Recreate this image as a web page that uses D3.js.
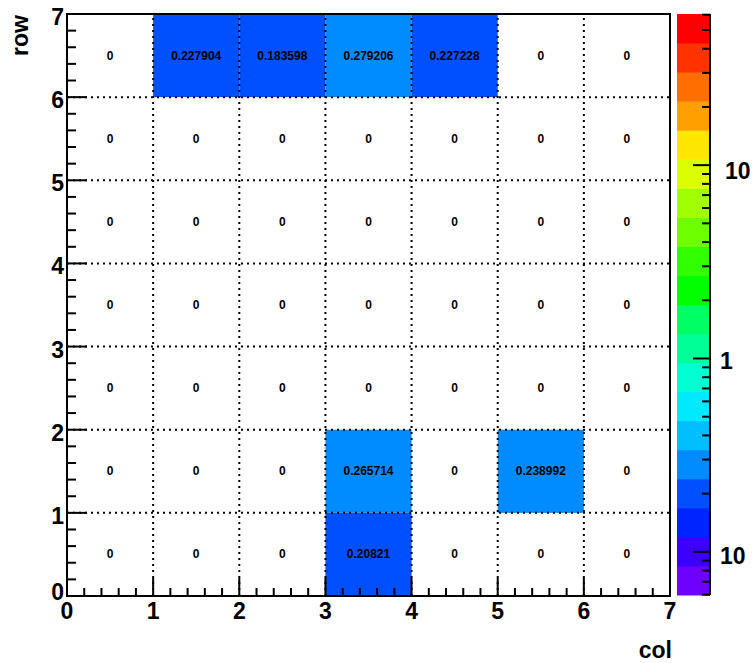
<!DOCTYPE html>
<html><head><meta charset="utf-8">
<script src="https://cdn.jsdelivr.net/npm/d3@7"></script>
<style>
html,body{margin:0;padding:0;background:#fff;}
svg{display:block;font-family:"Liberation Sans",Arial,Helvetica,sans-serif;}
</style></head>
<body>
<svg id="c" width="755" height="663"></svg>
<script>
// ---- data ----
const cols = [0, 1, 2, 3, 4, 5, 6];
const rows = [0, 1, 2, 3, 4, 5, 6];
const row0 = [0, 0, 0, 0.20821, 0, 0, 0];
const row1 = [0, 0, 0, 0.265714, 0, 0.238992, 0];
const row2 = [0, 0, 0, 0, 0, 0, 0];
const row3 = [0, 0, 0, 0, 0, 0, 0];
const row4 = [0, 0, 0, 0, 0, 0, 0];
const row5 = [0, 0, 0, 0, 0, 0, 0];
const row6 = [0, 0.227904, 0.183598, 0.279206, 0.227228, 0, 0];
const values = [row0, row1, row2, row3, row4, row5, row6];
const xTicks = [0, 1, 2, 3, 4, 5, 6, 7];
const yTicks = [0, 1, 2, 3, 4, 5, 6, 7];
const zRange = [0.0598, 60.5];
const zMajor = [0.1, 1, 10];
const zLabels = ["10", "1", "10"];
const xTitle = "col", yTitle = "row";
// palette, low to high (20 contour bands)
const palette = ["#6e00ff","#3c00ff","#0024ff","#0050ff","#008cff","#00beff","#00eaff","#00ffd2",
  "#00ff96","#00ff64","#00ff00","#32ff00","#6eff00","#a0ff00","#dcff00","#ffe600",
  "#ffa000","#ff6e00","#ff3200","#ff0000"];

const svg = d3.select("#c");
const L = 67, R = 670, T = 14, B = 596;
const x = d3.scaleLinear().domain([0, 7]).range([L, R]);
const y = d3.scaleLinear().domain([0, 7]).range([B, T]);
const zLog = d3.scaleLog().domain(zRange).range([0, palette.length]);
const colorOf = v => palette[Math.max(0, Math.min(palette.length - 1, Math.floor(zLog(v))))];

// cells
const cells = [];
rows.forEach((r, ri) => cols.forEach((c, ci) => cells.push({c, r, v: values[ri][ci]})));
svg.append("g").selectAll("rect").data(cells.filter(d => d.v > 0)).join("rect")
  .attr("x", d => x(d.c)).attr("y", d => y(d.r + 1))
  .attr("width", d => x(d.c + 1) - x(d.c)).attr("height", d => y(d.r) - y(d.r + 1))
  .attr("fill", d => colorOf(d.v));

// grid
const grid = svg.append("g").attr("stroke", "#000").attr("stroke-width", 2).attr("stroke-dasharray", "2,4");
grid.selectAll("line.gx").data(xTicks.slice(1, -1)).join("line")
  .attr("x1", d => x(d)).attr("x2", d => x(d)).attr("y1", B).attr("y2", T);
grid.selectAll("line.gy").data(yTicks.slice(1, -1)).join("line").attr("class","gy")
  .attr("y1", d => y(d)).attr("y2", d => y(d)).attr("x1", L).attr("x2", R);

// cell texts
svg.append("g").selectAll("text").data(cells).join("text")
  .attr("x", d => x(d.c + 0.5)).attr("y", d => y(d.r + 0.5) + 4)
  .attr("text-anchor", "middle").attr("font-size", 12).attr("font-weight", "bold")
  .text(d => String(d.v));

// frame
svg.append("rect").attr("x", L).attr("y", T).attr("width", R - L).attr("height", B - T)
  .attr("fill", "none").attr("stroke", "#000").attr("stroke-width", 2);

// ticks
const tk = svg.append("g").attr("stroke", "#000").attr("stroke-width", 2);
const minor = d3.range(0, 35).map(i => i / 5);
tk.selectAll("line.xm").data(minor).join("line").attr("class","xm")
  .attr("x1", d => x(d)).attr("x2", d => x(d)).attr("y1", B).attr("y2", d => B - (Number.isInteger(Math.round(d*1000)/1000) ? 18 : 8));
tk.selectAll("line.ym").data(minor).join("line").attr("class","ym")
  .attr("y1", d => y(d)).attr("y2", d => y(d)).attr("x1", L).attr("x2", d => L + (Number.isInteger(Math.round(d*1000)/1000) ? 20 : 9));

// tick labels
const lab = svg.append("g").attr("font-weight", "bold").attr("font-size", 23).attr("fill", "#000");
lab.selectAll("text.xl").data(xTicks).join("text").attr("class","xl")
  .attr("x", d => x(d)).attr("y", B + 23).attr("text-anchor", "middle").text(d => d);
lab.selectAll("text.yl").data(yTicks).join("text").attr("class","yl")
  .attr("x", L - 3).attr("y", d => y(d) + (d === 0 ? 4 : 11)).attr("text-anchor", "end").text(d => d);

// axis titles
svg.append("text").attr("x", 672).attr("y", 658).attr("text-anchor", "end")
  .attr("font-size", 23).attr("font-weight", "bold").text(xTitle);
svg.append("text").attr("transform", "translate(28,15) rotate(-90)").attr("text-anchor", "end")
  .attr("font-size", 23).attr("font-weight", "bold").text(yTitle);

// color bar
const CL = 677, CR = 710, CT = 14, CB = 595;
const zy = d3.scaleLog().domain(zRange).range([CB, CT]);
const bandH = (CB - CT) / palette.length;
svg.append("g").selectAll("rect").data(palette).join("rect")
  .attr("x", CL).attr("width", CR - CL)
  .attr("y", (d, i) => CB - (i + 1) * bandH).attr("height", bandH + 0.5)
  .attr("fill", d => d);
svg.append("line").attr("x1", CR).attr("x2", CR).attr("y1", CT).attr("y2", CB)
  .attr("stroke", "#000").attr("stroke-width", 2);
const zMinor = [];
[0.01, 0.1, 1, 10].forEach(p => d3.range(1, 10).forEach(k => {
  const v = p * k; if (v >= zRange[0] && v <= zRange[1]) zMinor.push(v);
}));
svg.append("g").attr("stroke", "#000").attr("stroke-width", 2).selectAll("line").data(zMinor).join("line")
  .attr("x1", CR).attr("y1", d => zy(d)).attr("y2", d => zy(d))
  .attr("x2", d => CR - (zMajor.some(m => Math.abs(m - d) < 1e-9) ? 17 : 8));
const zlx = [720, 720, 725];
const zdy = [12, 11, 14];
svg.append("g").attr("font-weight", "bold").attr("font-size", 23).selectAll("text").data(zMajor).join("text")
  .attr("x", (d, i) => zlx[i]).attr("y", (d, i) => zy(d) + zdy[i]).text((d, i) => zLabels[i]);
</script>
</body></html>
